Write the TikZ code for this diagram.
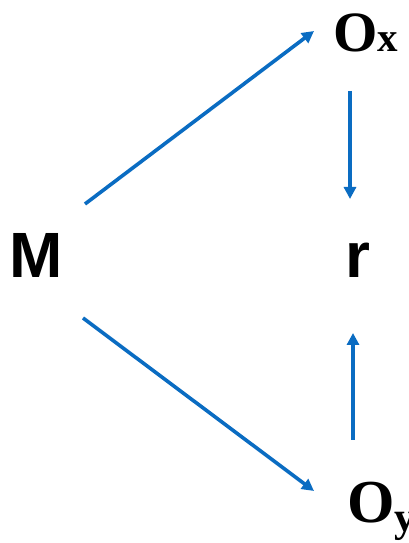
\documentclass[tikz,border=0pt]{standalone}
\usepackage{fontspec}
\setmainfont{Liberation Sans}
\newfontfamily\serifbf{Liberation Serif}
\usepackage{xcolor}
\definecolor{acc}{HTML}{0A6CC2}
\usetikzlibrary{arrows.meta,calc}
\tikzset{
  >={Triangle[length=12pt,width=12pt]},
  big/.style={inner sep=0pt,font=\fontsize{64}{70}\selectfont\bfseries},
  obs/.style={inner sep=0pt,anchor=base west},
  arr/.style={->,draw=acc,line width=3.6pt},
}

\begin{document}
\begin{tikzpicture}[x=1pt,y=1pt]
\useasboundingbox[fill=white] (0,0) rectangle (408,543);
% the four variables
\node[big,anchor=base] (M) at (36,265) {M};
\node[big,anchor=base] (r) at (358,265) {r};
\node[obs] (ox) at (333,491) {\serifbf\bfseries\fontsize{57}{60}\selectfont O{\fontsize{41}{41}\selectfont x}};
\node[obs] (oy) at (347,20) {\serifbf\bfseries\fontsize{61}{64}\selectfont O\raisebox{-9pt}{\fontsize{42}{42}\selectfont y}};
% arrows
\draw[arr] ($(M.base)+(49,74)$) -- ($(ox.base west)+(-19,21)$);
\draw[arr] ($(ox.base west)+(17,-39)$) -- ($(r.base)+(-8,79)$);
\draw[arr] ($(M.base)+(47,-40)$) -- ($(oy.base west)+(-33,32)$);
\draw[arr] ($(oy.base west)+(6,83)$) -- ($(r.base)+(-5,-55)$);
\end{tikzpicture}
\end{document}
